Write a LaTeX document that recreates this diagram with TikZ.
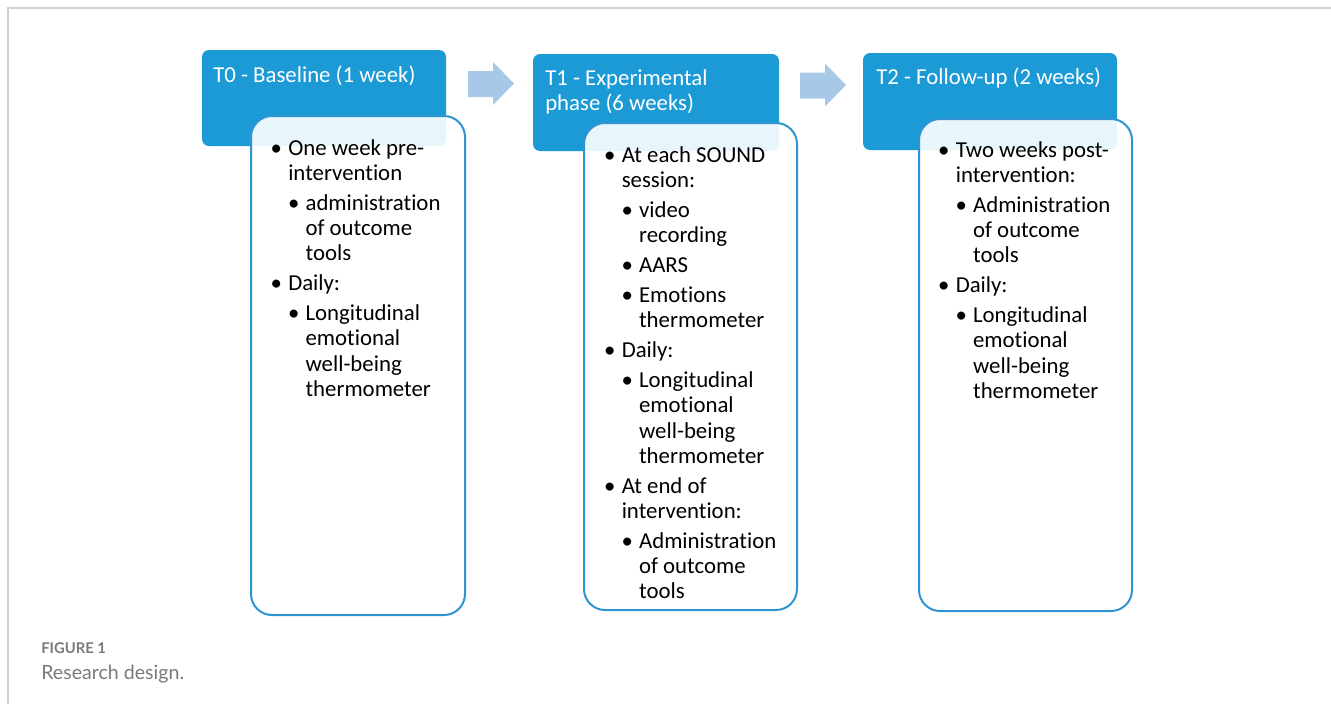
\documentclass[tikz,border=0pt]{standalone}
\usepackage{fontspec}
\setmainfont{Carlito}[Ligatures={NoCommon}]
\newfontfamily\capfont{Lato}
\definecolor{hdrblue}{HTML}{1C9AD6}
\definecolor{edgeblue}{HTML}{2F94D4}
\definecolor{arrblue}{HTML}{A8C8E8}
\definecolor{framegray}{HTML}{D0D0D0}
\definecolor{capgray}{HTML}{7A7A7A}
\newcommand\La[1]{\makebox[0pt][c]{\textbullet}\hspace*{9pt}#1}
\newcommand\Lac[1]{\hspace*{9pt}#1}
\newcommand\Lb[1]{\hspace*{13.1pt}\makebox[0pt][c]{\textbullet}\hspace*{8.9pt}#1}
\newcommand\Lbc[1]{\hspace*{22pt}#1}
\tikzset{
  hdr/.style={fill=hdrblue, draw=none, rounded corners=5.25pt},
  bodybox/.style={fill=white, fill opacity=0.9, draw=edgeblue, line width=1.5pt, rounded corners=15.75pt},
  blockarrow/.style={fill=arrblue, draw=none},
  hdrtext/.style={anchor=base west, inner sep=0pt, align=left, text=white, font=\fontsize{17.1pt}{18.9pt}\selectfont},
  bodytext/.style={anchor=base west, inner sep=0pt, align=left, text=black, font=\fontsize{17.1pt}{18.9pt}\selectfont},
}
\begin{document}
\begin{tikzpicture}[x=0.75pt, y=-0.75pt]
\useasboundingbox (0,0) rectangle (1331,704);
% frame
\draw[framegray, line width=1.1pt] (8,704) -- (8,8) -- (1331,8);
% headers
\draw[hdr] (202,50) rectangle (446,146);
\draw[hdr] (533,54) rectangle (779,151);
\draw[hdr] (863,53) rectangle (1117,150);
% arrows
\fill[blockarrow] (468,71) -- (493,71) -- (493,62) -- (514,83.5) -- (493,105) -- (493,97) -- (468,97) -- cycle;
\fill[blockarrow] (800,72.5) -- (825,72.5) -- (825,63.5) -- (846,85) -- (825,106.5) -- (825,98.5) -- (800,98.5) -- cycle;
% body boxes
\draw[bodybox] (251,116) rectangle (465,615);
\draw[bodybox] (584,123) rectangle (797,610);
\draw[bodybox] (919,119) rectangle (1132,611);
% header texts (anchor = baseline of last line)
\node[hdrtext] (h0) at (213,82) {T0 - Baseline (1 week)};
\node[hdrtext] (h1) at (545,110.2) {T1 - Experimental\\phase (6 weeks)};
\node[hdrtext] (h2) at (876,84) {T2 - Follow-up (2 weeks)};
% body texts (anchor = baseline of last line)
\node[bodytext] (b0) at (276,396.2) {\La{One week pre-}\\\Lac{intervention}\\[3.6pt]
\Lb{administration}\\\Lbc{of outcome}\\\Lbc{tools}\\[3.6pt]
\La{Daily:}\\[3.6pt]
\Lb{Longitudinal}\\\Lbc{emotional}\\\Lbc{well-being}\\\Lbc{thermometer}};
\node[bodytext] (b1) at (609.5,598.8) {\La{At each SOUND}\\\Lac{session:}\\[3.6pt]
\Lb{video}\\\Lbc{recording}\\[3.6pt]
\Lb{AARS}\\[3.6pt]
\Lb{Emotions}\\\Lbc{thermometer}\\[3.6pt]
\La{Daily:}\\[3.6pt]
\Lb{Longitudinal}\\\Lbc{emotional}\\\Lbc{well-being}\\\Lbc{thermometer}\\[3.6pt]
\La{At end of}\\\Lac{intervention:}\\[3.6pt]
\Lb{Administration}\\\Lbc{of outcome}\\\Lbc{tools}};
\node[bodytext] (b2) at (943.5,398.2) {\La{Two weeks post-}\\\Lac{intervention:}\\[3.6pt]
\Lb{Administration}\\\Lbc{of outcome}\\\Lbc{tools}\\[3.6pt]
\La{Daily:}\\[3.6pt]
\Lb{Longitudinal}\\\Lbc{emotional}\\\Lbc{well-being}\\\Lbc{thermometer}};
% caption
\node[anchor=base west, inner sep=0pt, text=capgray, font=\capfont\bfseries\fontsize{11.1pt}{13pt}\selectfont] (fig) at (41,653) {FIGURE 1};
\node[anchor=base west, inner sep=0pt, text=capgray, font=\capfont\fontsize{14.7pt}{17pt}\selectfont] (cap) at (41,679) {Research design.};
\end{tikzpicture}
\end{document}
